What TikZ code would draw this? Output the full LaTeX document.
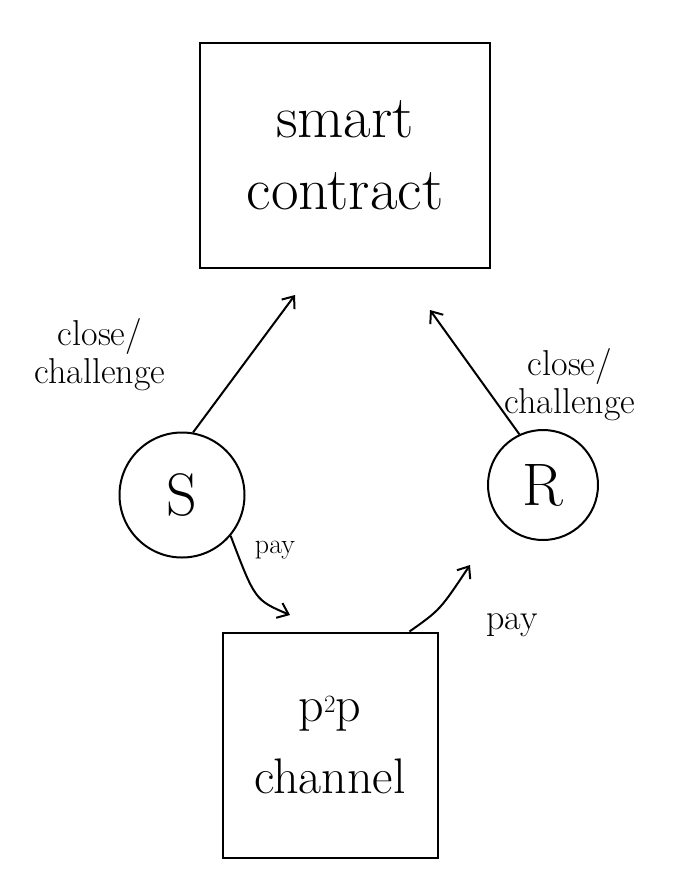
\documentclass[tikz,border=0pt]{standalone}
\usepackage{fontspec}
\usetikzlibrary{arrows.meta}
\begin{document}
\begin{tikzpicture}[x=1pt,y=-1pt,line width=2pt,
  lbl/.style={font=\fontsize{36}{38}\selectfont,align=center},
  arr/.style={-{Straight Barb[length=10pt,width=16pt]}}]
\useasboundingbox (0,0) rectangle (681,895);
\node[draw,minimum width=290pt,minimum height=225pt,font=\fontsize{60}{72}\selectfont,align=center] (sc) at (345,155) {smart\\contract};
\node[draw,minimum width=215pt,minimum height=225pt,font=\fontsize{50}{72}\selectfont,align=center] (p2p) at (330,745) {p$^2$p\\channel};
\node[draw,circle,minimum size=125pt,font=\fontsize{60}{60}\selectfont] (S) at (182,495) {S};
\node[draw,circle,minimum size=110pt,font=\fontsize{60}{60}\selectfont] (R) at (543,485) {R};
\coordinate (a1) at (295,295);
\coordinate (a2) at (430,310);
\coordinate (a3) at (290,615);
\draw[arr] (S.80) -- (a1);
\draw[arr] (R.115) -- (a2);
\draw[arr] (S.-40) .. controls (255,600) .. (a3);
\draw[arr] (p2p.55) .. controls (440,610) .. (470,565);
\node[lbl] (l1) at (100,355) {close/\\challenge};
\node[lbl] (l2) at (570,385) {close/\\challenge};
\node[lbl,font=\fontsize{28}{28}\selectfont] (l3) at (275,550) {pay};
\node[lbl] (l4) at (512,625) {pay};
\end{tikzpicture}
\end{document}
